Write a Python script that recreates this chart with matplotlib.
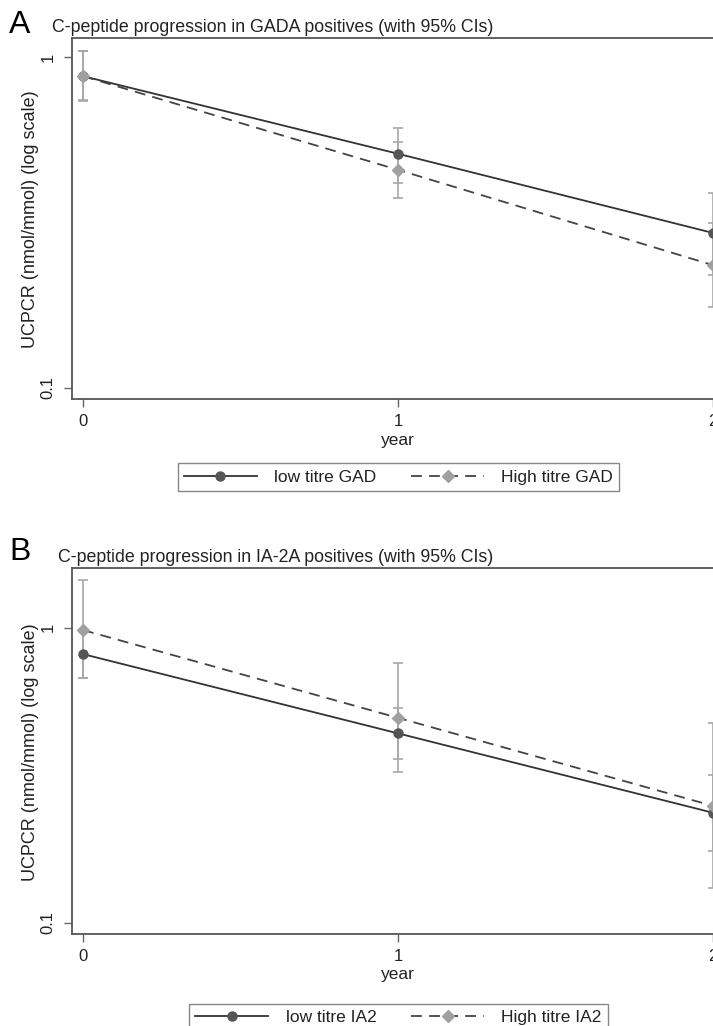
import matplotlib
matplotlib.use("Agg")
import matplotlib.pyplot as plt
from matplotlib.lines import Line2D

plt.rcParams['font.family'] = ['Liberation Sans', 'DejaVu Sans']

# --- Data ---
years = [0, 1, 2]

# Panel A: GADA positives
gad_low = [0.875, 0.51, 0.294]
gad_low_lo = [0.74, 0.415, 0.22]
gad_low_hi = [1.04, 0.611, 0.389]
gad_high = [0.875, 0.456, 0.235]
gad_high_lo = [0.735, 0.376, 0.176]
gad_high_hi = [1.045, 0.555, 0.315]

# Panel B: IA-2A positives
ia2_low = [0.814, 0.4385, 0.236]
ia2_low_lo = [0.677, 0.359, 0.175]
ia2_low_hi = [0.98, 0.5356, 0.318]
ia2_high = [0.982, 0.495, 0.249]
ia2_high_lo = [0.677, 0.3235, 0.1308]
ia2_high_hi = [1.45, 0.757, 0.474]

W, H = 713, 1026
DARK = "#444444"
MARK_DARK = "#555555"
MARK_LIGHT = "#a0a0a0"
ERR = "#a8a8a8"

fig = plt.figure(figsize=(W / 100, H / 100), dpi=100)


def fx(px):
    return px / W


def fy(py):
    return 1 - py / H


def panel(top, bottom, ylim, low, low_lo, low_hi, high, high_lo, high_hi):
    ax = fig.add_axes([fx(72), fy(bottom), fx(724 - 72), (bottom - top) / H])
    for m, lo, hi in [(low, low_lo, low_hi), (high, high_lo, high_hi)]:
        yerr = [[v - l for v, l in zip(m, lo)], [h - v for v, h in zip(m, hi)]]
        ax.errorbar(years, m, yerr=yerr, fmt="none", ecolor=ERR,
                    elinewidth=1.2, capsize=3.3, capthick=1.2, zorder=2)
    ax.plot(years, low, color="#333333", lw=1.3, marker="o", ms=6.5,
            mfc=MARK_DARK, mec=MARK_DARK, zorder=3, clip_on=False)
    ax.plot(years, high, color=DARK, lw=1.3, ls=(0, (6, 4)), marker="D",
            ms=6, mfc=MARK_LIGHT, mec=MARK_LIGHT, zorder=3, clip_on=False)
    ax.set_yscale("log")
    ax.set_ylim(*ylim)
    ax.set_xlim(-0.035, 2.035)
    ax.set_xticks([0, 1, 2])
    ax.set_xticklabels(["0", "1", "2"])
    ax.set_yticks([0.1, 1])
    ax.set_yticklabels(["0.1", "1"], rotation=90, va="center")
    ax.yaxis.set_minor_locator(matplotlib.ticker.NullLocator())
    ax.tick_params(axis="both", direction="out", length=6, width=1,
                   color="#666666", labelsize=12, labelcolor="#222222")
    ax.tick_params(axis="y", pad=6)
    ax.tick_params(axis="x", pad=5)
    for s in ax.spines.values():
        s.set_color("#555555")
        s.set_linewidth(1.3)
    return ax


# --- Panel A ---
axA = panel(38, 399, (0.0926, 1.141), gad_low, gad_low_lo, gad_low_hi,
            gad_high, gad_high_lo, gad_high_hi)
# --- Panel B ---
axB = panel(568, 934, (0.0916, 1.594), ia2_low, ia2_low_lo, ia2_low_hi,
            ia2_high, ia2_high_lo, ia2_high_hi)

fig.text(fx(9), fy(33), "A", fontsize=23, va="baseline", ha="left")
fig.text(fx(52), fy(31.5), "C-peptide progression in GADA positives (with 95% CIs)",
         fontsize=12.8, va="baseline", ha="left", color="#222222")
fig.text(fx(9), fy(560), "B", fontsize=23, va="baseline", ha="left")
fig.text(fx(58), fy(561.5), "C-peptide progression in IA-2A positives (with 95% CIs)",
         fontsize=12.8, va="baseline", ha="left", color="#222222")

ylab = "UCPCR (nmol/mmol) (log scale)"
fig.text(fx(31), fy(219), ylab, rotation=90, ha="center", va="center",
         fontsize=13, color="#222222")
fig.text(fx(31), fy(752), ylab, rotation=90, ha="center", va="center",
         fontsize=13, color="#222222")
fig.text(fx(398), fy(440), "year", ha="center", va="center", fontsize=12.5,
         color="#222222")
fig.text(fx(398), fy(975), "year", ha="center", va="center", fontsize=12.5,
         color="#222222")


def legend_handles():
    h1 = Line2D([], [], color="#333333", lw=1.3, marker="o", ms=6.5,
                mfc=MARK_DARK, mec=MARK_DARK)
    h2 = Line2D([], [], color=DARK, lw=1.3, ls=(0, (6, 4)), marker="D", ms=6,
                mfc=MARK_LIGHT, mec=MARK_LIGHT)
    return [h1, h2]


for labels, cy, loc in [(["low titre GAD", "High titre GAD"], 477, "center"),
                        (["low titre IA2", "High titre IA2"], 995, "upper center")]:
    leg = fig.legend(legend_handles(), labels, loc=loc,
                     bbox_to_anchor=(fx(398.5), fy(cy)), ncol=2, fontsize=12.5,
                     handlelength=4.2, columnspacing=2.0, handletextpad=1.0,
                     fancybox=False, framealpha=1, borderpad=0.35,
                     edgecolor="#888888")
    leg.get_frame().set_linewidth(1.0)
    for t in leg.get_texts():
        t.set_color("#222222")

fig.savefig("out.png", dpi=100)
